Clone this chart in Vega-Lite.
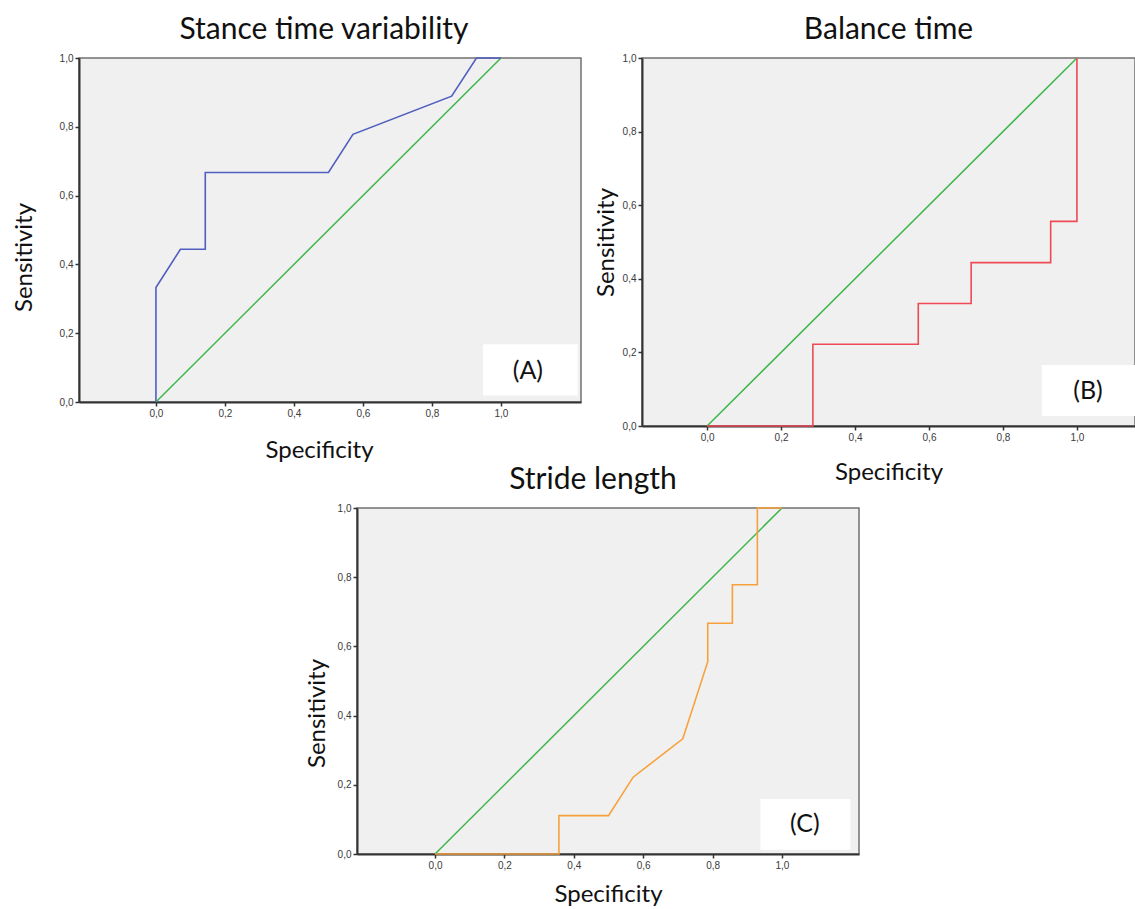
{
  "$schema": "https://vega.github.io/schema/vega-lite/v6.json",
  "background": "white",
  "padding": {"left": 11, "top": 14, "right": 0, "bottom": 0},
  "datasets": {
    "roc_a": [
      {"i": 0, "spec": 0, "sens": 0},
      {"i": 1, "spec": 0, "sens": 0.333},
      {"i": 2, "spec": 0.071, "sens": 0.444},
      {"i": 3, "spec": 0.143, "sens": 0.444},
      {"i": 4, "spec": 0.143, "sens": 0.667},
      {"i": 5, "spec": 0.5, "sens": 0.667},
      {"i": 6, "spec": 0.571, "sens": 0.778},
      {"i": 7, "spec": 0.857, "sens": 0.889},
      {"i": 8, "spec": 0.929, "sens": 1},
      {"i": 9, "spec": 1, "sens": 1}
    ],
    "roc_b": [
      {"i": 0, "spec": 0, "sens": 0},
      {"i": 1, "spec": 0.286, "sens": 0},
      {"i": 2, "spec": 0.286, "sens": 0.222},
      {"i": 3, "spec": 0.571, "sens": 0.222},
      {"i": 4, "spec": 0.571, "sens": 0.333},
      {"i": 5, "spec": 0.714, "sens": 0.333},
      {"i": 6, "spec": 0.714, "sens": 0.444},
      {"i": 7, "spec": 0.929, "sens": 0.444},
      {"i": 8, "spec": 0.929, "sens": 0.556},
      {"i": 9, "spec": 1, "sens": 0.556},
      {"i": 10, "spec": 1, "sens": 1}
    ],
    "roc_c": [
      {"i": 0, "spec": 0, "sens": 0},
      {"i": 1, "spec": 0.357, "sens": 0},
      {"i": 2, "spec": 0.357, "sens": 0.111},
      {"i": 3, "spec": 0.5, "sens": 0.111},
      {"i": 4, "spec": 0.571, "sens": 0.222},
      {"i": 5, "spec": 0.714, "sens": 0.333},
      {"i": 6, "spec": 0.75, "sens": 0.444},
      {"i": 7, "spec": 0.786, "sens": 0.556},
      {"i": 8, "spec": 0.786, "sens": 0.667},
      {"i": 9, "spec": 0.857, "sens": 0.667},
      {"i": 10, "spec": 0.857, "sens": 0.778},
      {"i": 11, "spec": 0.929, "sens": 0.778},
      {"i": 12, "spec": 0.929, "sens": 1},
      {"i": 13, "spec": 1, "sens": 1}
    ],
    "diag": [
      {"i": 0, "spec": 0, "sens": 0},
      {"i": 1, "spec": 1, "sens": 1}
    ],
    "lab_a": [{"label": "(A)"}],
    "lab_b": [{"label": "(B)"}],
    "lab_c": [{"label": "(C)"}],
    "blank": [{"k": 1}]
  },
  "config": {
    "font": "Lato",
    "view": {"fill": "#f0f0f0", "stroke": "#707070", "strokeWidth": 1.5},
    "axis": {
      "grid": false,
      "domainColor": "#333333",
      "domainWidth": 2,
      "tickColor": "#333333",
      "tickSize": 4,
      "tickWidth": 1.5,
      "labelFont": "Liberation Sans",
      "labelFontSize": 10,
      "labelColor": "#3a3a3a",
      "labelPadding": 2,
      "titleFont": "Lato",
      "titleFontSize": 24,
      "titleFontWeight": "normal",
      "titleColor": "#111111"
    },
    "title": {"font": "Lato", "fontSize": 30, "fontWeight": "normal", "color": "#111111", "baseline": "alphabetic", "offset": 8}
  },
  "spacing": -21,
  "vconcat": [
    {
      "spacing": 11,
      "hconcat": [
        {
          "width": 502,
          "height": 344,
          "title": {"text": "Stance time variability", "dx": -6},
          "layer": [
            {
              "data": {"name": "diag"},
              "mark": {"type": "line", "color": "#3fb64a", "strokeWidth": 1.5},
              "encoding": {
                "x": {"field": "spec", "type": "quantitative", "scale": {"domain": [-0.223, 1.232], "nice": false, "zero": false}, "axis": {"values": [0, 0.2, 0.4, 0.6, 0.8, 1], "labelExpr": "replace(format(datum.value, '.1f'), '.', ',')", "title": "Specificity", "titlePadding": 20, "titleX": 240}},
                "y": {"field": "sens", "type": "quantitative", "scale": {"domain": [0, 1], "nice": false, "zero": false}, "axis": {"values": [0, 0.2, 0.4, 0.6, 0.8, 1], "labelExpr": "replace(format(datum.value, '.1f'), '.', ',')", "title": "Sensitivity", "titlePadding": 23, "titleY": 199}},
                "order": {"field": "i"}
              }
            },
            {
              "data": {"name": "roc_a"},
              "mark": {"type": "line", "color": "#4f5fbf", "strokeWidth": 1.6},
              "encoding": {
                "x": {"field": "spec", "type": "quantitative", "scale": {"domain": [-0.223, 1.232], "nice": false, "zero": false}, "axis": {"values": [0, 0.2, 0.4, 0.6, 0.8, 1], "labelExpr": "replace(format(datum.value, '.1f'), '.', ',')", "title": "Specificity", "titlePadding": 20, "titleX": 240}},
                "y": {"field": "sens", "type": "quantitative", "scale": {"domain": [0, 1], "nice": false, "zero": false}, "axis": {"values": [0, 0.2, 0.4, 0.6, 0.8, 1], "labelExpr": "replace(format(datum.value, '.1f'), '.', ',')", "title": "Sensitivity", "titlePadding": 23, "titleY": 199}},
                "order": {"field": "i"}
              }
            },
            {
              "data": {"name": "lab_a"},
              "mark": {"type": "rect", "fill": "white"},
              "encoding": {
                "x": {"datum": 0.948, "type": "quantitative", "scale": {"domain": [-0.223, 1.232], "nice": false, "zero": false}, "axis": {"values": [0, 0.2, 0.4, 0.6, 0.8, 1], "labelExpr": "replace(format(datum.value, '.1f'), '.', ',')", "title": "Specificity", "titlePadding": 20, "titleX": 240}},
                "x2": {"datum": 1.222},
                "y": {"datum": 0.019, "type": "quantitative", "scale": {"domain": [0, 1], "nice": false, "zero": false}, "axis": {"values": [0, 0.2, 0.4, 0.6, 0.8, 1], "labelExpr": "replace(format(datum.value, '.1f'), '.', ',')", "title": "Sensitivity", "titlePadding": 23, "titleY": 199}},
                "y2": {"datum": 0.168}
              }
            },
            {
              "data": {"name": "lab_a"},
              "mark": {"type": "text", "font": "Lato", "fontSize": 25, "color": "#111111"},
              "encoding": {
                "x": {"datum": 1.078, "type": "quantitative", "scale": {"domain": [-0.223, 1.232], "nice": false, "zero": false}, "axis": {"values": [0, 0.2, 0.4, 0.6, 0.8, 1], "labelExpr": "replace(format(datum.value, '.1f'), '.', ',')", "title": "Specificity", "titlePadding": 20, "titleX": 240}},
                "y": {"datum": 0.091, "type": "quantitative", "scale": {"domain": [0, 1], "nice": false, "zero": false}, "axis": {"values": [0, 0.2, 0.4, 0.6, 0.8, 1], "labelExpr": "replace(format(datum.value, '.1f'), '.', ',')", "title": "Sensitivity", "titlePadding": 23, "titleY": 199}},
                "text": {"field": "label"}
              }
            }
          ]
        },
        {
          "width": 493,
          "height": 368,
          "title": {"text": "Balance time"},
          "layer": [
            {
              "data": {"name": "lab_b"},
              "mark": {"type": "rect", "fill": "white"},
              "encoding": {
                "x": {"datum": 0.905, "type": "quantitative", "scale": {"domain": [-0.176, 1.157], "nice": false, "zero": false}, "axis": {"values": [0, 0.2, 0.4, 0.6, 0.8, 1], "labelExpr": "replace(format(datum.value, '.1f'), '.', ',')", "title": "Specificity", "titlePadding": 18}},
                "x2": {"datum": 1.157},
                "y": {"datum": 0.027, "type": "quantitative", "scale": {"domain": [0, 1], "nice": false, "zero": false}, "axis": {"values": [0, 0.2, 0.4, 0.6, 0.8, 1], "labelExpr": "replace(format(datum.value, '.1f'), '.', ',')", "title": "Sensitivity", "titlePadding": 4}},
                "y2": {"datum": 0.166}
              }
            },
            {
              "data": {"name": "diag"},
              "mark": {"type": "line", "color": "#3fb64a", "strokeWidth": 1.5},
              "encoding": {
                "x": {"field": "spec", "type": "quantitative", "scale": {"domain": [-0.176, 1.157], "nice": false, "zero": false}, "axis": {"values": [0, 0.2, 0.4, 0.6, 0.8, 1], "labelExpr": "replace(format(datum.value, '.1f'), '.', ',')", "title": "Specificity", "titlePadding": 18}},
                "y": {"field": "sens", "type": "quantitative", "scale": {"domain": [0, 1], "nice": false, "zero": false}, "axis": {"values": [0, 0.2, 0.4, 0.6, 0.8, 1], "labelExpr": "replace(format(datum.value, '.1f'), '.', ',')", "title": "Sensitivity", "titlePadding": 4}},
                "order": {"field": "i"}
              }
            },
            {
              "data": {"name": "roc_b"},
              "mark": {"type": "line", "color": "#ee4a55", "strokeWidth": 1.6},
              "encoding": {
                "x": {"field": "spec", "type": "quantitative", "scale": {"domain": [-0.176, 1.157], "nice": false, "zero": false}, "axis": {"values": [0, 0.2, 0.4, 0.6, 0.8, 1], "labelExpr": "replace(format(datum.value, '.1f'), '.', ',')", "title": "Specificity", "titlePadding": 18}},
                "y": {"field": "sens", "type": "quantitative", "scale": {"domain": [0, 1], "nice": false, "zero": false}, "axis": {"values": [0, 0.2, 0.4, 0.6, 0.8, 1], "labelExpr": "replace(format(datum.value, '.1f'), '.', ',')", "title": "Sensitivity", "titlePadding": 4}},
                "order": {"field": "i"}
              }
            },
            {
              "data": {"name": "lab_b"},
              "mark": {"type": "text", "font": "Lato", "fontSize": 25, "color": "#111111"},
              "encoding": {
                "x": {"datum": 1.03, "type": "quantitative", "scale": {"domain": [-0.176, 1.157], "nice": false, "zero": false}, "axis": {"values": [0, 0.2, 0.4, 0.6, 0.8, 1], "labelExpr": "replace(format(datum.value, '.1f'), '.', ',')", "title": "Specificity", "titlePadding": 18}},
                "y": {"datum": 0.095, "type": "quantitative", "scale": {"domain": [0, 1], "nice": false, "zero": false}, "axis": {"values": [0, 0.2, 0.4, 0.6, 0.8, 1], "labelExpr": "replace(format(datum.value, '.1f'), '.', ',')", "title": "Sensitivity", "titlePadding": 4}},
                "text": {"field": "label"}
              }
            }
          ]
        }
      ]
    },
    {
      "spacing": 0,
      "hconcat": [
        {
          "width": 225,
          "height": 20,
          "data": {"name": "blank"},
          "mark": {"type": "text", "text": ""},
          "view": {"stroke": null, "fill": "white"}
        },
        {
          "width": 502,
          "height": 346,
          "title": {"text": "Stride length", "dx": -15},
          "layer": [
            {
              "data": {"name": "lab_c"},
              "mark": {"type": "rect", "fill": "white"},
              "encoding": {
                "x": {"datum": 0.938, "type": "quantitative", "scale": {"domain": [-0.225, 1.222], "nice": false, "zero": false}, "axis": {"values": [0, 0.2, 0.4, 0.6, 0.8, 1], "labelExpr": "replace(format(datum.value, '.1f'), '.', ',')", "title": "Specificity", "titlePadding": 12}},
                "x2": {"datum": 1.197},
                "y": {"datum": 0.012, "type": "quantitative", "scale": {"domain": [0, 1], "nice": false, "zero": false}, "axis": {"values": [0, 0.2, 0.4, 0.6, 0.8, 1], "labelExpr": "replace(format(datum.value, '.1f'), '.', ',')", "title": "Sensitivity", "titlePadding": 8, "titleY": 205}},
                "y2": {"datum": 0.159}
              }
            },
            {
              "data": {"name": "diag"},
              "mark": {"type": "line", "color": "#3fb64a", "strokeWidth": 1.5},
              "encoding": {
                "x": {"field": "spec", "type": "quantitative", "scale": {"domain": [-0.225, 1.222], "nice": false, "zero": false}, "axis": {"values": [0, 0.2, 0.4, 0.6, 0.8, 1], "labelExpr": "replace(format(datum.value, '.1f'), '.', ',')", "title": "Specificity", "titlePadding": 12}},
                "y": {"field": "sens", "type": "quantitative", "scale": {"domain": [0, 1], "nice": false, "zero": false}, "axis": {"values": [0, 0.2, 0.4, 0.6, 0.8, 1], "labelExpr": "replace(format(datum.value, '.1f'), '.', ',')", "title": "Sensitivity", "titlePadding": 8, "titleY": 205}},
                "order": {"field": "i"}
              }
            },
            {
              "data": {"name": "roc_c"},
              "mark": {"type": "line", "color": "#f7a13c", "strokeWidth": 1.6},
              "encoding": {
                "x": {"field": "spec", "type": "quantitative", "scale": {"domain": [-0.225, 1.222], "nice": false, "zero": false}, "axis": {"values": [0, 0.2, 0.4, 0.6, 0.8, 1], "labelExpr": "replace(format(datum.value, '.1f'), '.', ',')", "title": "Specificity", "titlePadding": 12}},
                "y": {"field": "sens", "type": "quantitative", "scale": {"domain": [0, 1], "nice": false, "zero": false}, "axis": {"values": [0, 0.2, 0.4, 0.6, 0.8, 1], "labelExpr": "replace(format(datum.value, '.1f'), '.', ',')", "title": "Sensitivity", "titlePadding": 8, "titleY": 205}},
                "order": {"field": "i"}
              }
            },
            {
              "data": {"name": "lab_c"},
              "mark": {"type": "text", "font": "Lato", "fontSize": 25, "color": "#111111"},
              "encoding": {
                "x": {"datum": 1.066, "type": "quantitative", "scale": {"domain": [-0.225, 1.222], "nice": false, "zero": false}, "axis": {"values": [0, 0.2, 0.4, 0.6, 0.8, 1], "labelExpr": "replace(format(datum.value, '.1f'), '.', ',')", "title": "Specificity", "titlePadding": 12}},
                "y": {"datum": 0.087, "type": "quantitative", "scale": {"domain": [0, 1], "nice": false, "zero": false}, "axis": {"values": [0, 0.2, 0.4, 0.6, 0.8, 1], "labelExpr": "replace(format(datum.value, '.1f'), '.', ',')", "title": "Sensitivity", "titlePadding": 8, "titleY": 205}},
                "text": {"field": "label"}
              }
            }
          ]
        }
      ]
    }
  ]
}
